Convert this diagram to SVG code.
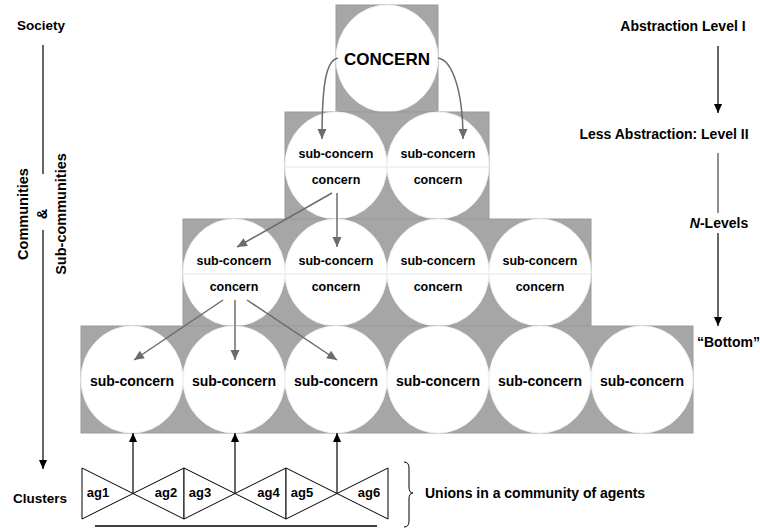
<svg xmlns="http://www.w3.org/2000/svg" width="760" height="530" viewBox="0 0 760 530">
<defs>
<style>
text{font-family:"Liberation Sans",Arial,sans-serif;font-weight:bold;fill:#000}
.lvl{fill:#a6a6a6;stroke:#9a9a9a;stroke-width:1}
.c{fill:#fff;stroke:#f2f2f2;stroke-width:1}
.div{stroke:#e6e6e6;stroke-width:1}
.s{font-size:12.5px;text-anchor:middle}
.b{font-size:14px;text-anchor:middle}
.side{font-size:13.5px}
.vt{font-size:14.5px;text-anchor:middle}
.ag{font-size:13px;text-anchor:middle}
.ga{fill:none;stroke:#6b6b6b;stroke-width:1.5;marker-end:url(#mg)}
.ka{fill:none;stroke:#000;stroke-width:1.2;marker-end:url(#mk)}
.ra{fill:none;stroke:#444;stroke-width:1.2}
.tri{fill:#fff;stroke:#000;stroke-width:1}
</style>
<marker id="mg" viewBox="0 0 10 10" refX="10" refY="5" markerWidth="11" markerHeight="10" orient="auto" markerUnits="userSpaceOnUse"><path d="M0,0.5 L10,5 L0,9.5 Z" fill="#6b6b6b"/></marker>
<marker id="mk" viewBox="0 0 10 10" refX="10" refY="5" markerWidth="10" markerHeight="9" orient="auto" markerUnits="userSpaceOnUse"><path d="M0,0.5 L10,5 L0,9.5 Z" fill="#000"/></marker>
</defs>
<rect width="760" height="530" fill="#fff"/>

<g id="level1">
<rect class="lvl" x="336" y="5" width="102" height="107"/>
<g id="concern-top"><ellipse class="c" cx="387" cy="58.5" rx="51" ry="53.5"/><text x="387" y="65" style="font-size:17px;text-anchor:middle">CONCERN</text></g>
</g>

<g id="level2">
<rect class="lvl" x="285" y="112" width="204" height="107"/>
<g id="l2c1"><ellipse class="c" cx="336" cy="165.5" rx="51" ry="53.5"/><line class="div" x1="285" y1="167" x2="387" y2="167"/><text class="s" x="336" y="158">sub-concern</text><text class="s" x="336" y="184">concern</text></g>
<g id="l2c2"><ellipse class="c" cx="438" cy="165.5" rx="51" ry="53.5"/><line class="div" x1="387" y1="167" x2="489" y2="167"/><text class="s" x="438" y="158">sub-concern</text><text class="s" x="438" y="184">concern</text></g>
</g>

<g id="level3">
<rect class="lvl" x="183" y="219" width="408" height="107"/>
<g id="l3c1"><ellipse class="c" cx="234" cy="272.5" rx="51" ry="53.5"/><line class="div" x1="183" y1="274" x2="285" y2="274"/><text class="s" x="234" y="265">sub-concern</text><text class="s" x="234" y="291">concern</text></g>
<g id="l3c2"><ellipse class="c" cx="336" cy="272.5" rx="51" ry="53.5"/><line class="div" x1="285" y1="274" x2="387" y2="274"/><text class="s" x="336" y="265">sub-concern</text><text class="s" x="336" y="291">concern</text></g>
<g id="l3c3"><ellipse class="c" cx="438" cy="272.5" rx="51" ry="53.5"/><line class="div" x1="387" y1="274" x2="489" y2="274"/><text class="s" x="438" y="265">sub-concern</text><text class="s" x="438" y="291">concern</text></g>
<g id="l3c4"><ellipse class="c" cx="540" cy="272.5" rx="51" ry="53.5"/><line class="div" x1="489" y1="274" x2="591" y2="274"/><text class="s" x="540" y="265">sub-concern</text><text class="s" x="540" y="291">concern</text></g>
</g>

<g id="level4">
<rect class="lvl" x="81" y="326" width="612" height="107"/>
<g id="l4c1"><ellipse class="c" cx="132" cy="379.5" rx="51" ry="53.5"/><text class="b" x="132" y="386">sub-concern</text></g>
<g id="l4c2"><ellipse class="c" cx="234" cy="379.5" rx="51" ry="53.5"/><text class="b" x="234" y="386">sub-concern</text></g>
<g id="l4c3"><ellipse class="c" cx="336" cy="379.5" rx="51" ry="53.5"/><text class="b" x="336" y="386">sub-concern</text></g>
<g id="l4c4"><ellipse class="c" cx="438" cy="379.5" rx="51" ry="53.5"/><text class="b" x="438" y="386">sub-concern</text></g>
<g id="l4c5"><ellipse class="c" cx="540" cy="379.5" rx="51" ry="53.5"/><text class="b" x="540" y="386">sub-concern</text></g>
<g id="l4c6"><ellipse class="c" cx="642" cy="379.5" rx="51" ry="53.5"/><text class="b" x="642" y="386">sub-concern</text></g>
</g>

<g id="clusters">
<g id="bowtie1"><polygon class="tri" points="82,468 82,519 133,493.5"/><polygon class="tri" points="133,493.5 184,468 184,519"/><text class="ag" x="98" y="497">ag1</text><text class="ag" x="166" y="497">ag2</text></g>
<g id="bowtie2"><polygon class="tri" points="184,468 184,519 235,493.5"/><polygon class="tri" points="235,493.5 286,468 286,519"/><text class="ag" x="200" y="497">ag3</text><text class="ag" x="268.5" y="497">ag4</text></g>
<g id="bowtie3"><polygon class="tri" points="286,468 286,519 337,493.5"/><polygon class="tri" points="337,493.5 388,468 388,519"/><text class="ag" x="302" y="497">ag5</text><text class="ag" x="369" y="497">ag6</text></g>
<line x1="95" y1="526" x2="377" y2="526" stroke="#000" stroke-width="1.5"/>
<path d="M404,462 Q409,462 409,468 L409,487 Q409,493 413,493 Q409,493 409,499 L409,521 Q409,527 404,527" fill="none" stroke="#000" stroke-width="1"/>
<text x="425" y="498" style="font-size:14px">Unions in a community of agents</text>
</g>

<g id="connectors">
<path class="ga" d="M338,58 C325,60 322,90 322,139"/>
<path class="ga" d="M438,58 C452,60 463,90 463,139"/>
<path class="ga" d="M332,193 L237,247"/>
<path class="ga" d="M337,193 L337,247"/>
<path class="ga" d="M223,300 L134,360"/>
<path class="ga" d="M235,300 L235,360"/>
<path class="ga" d="M247,300 L337,360"/>
<path class="ka" d="M133,493 L133,433"/>
<path class="ka" d="M235,493 L235,433"/>
<path class="ka" d="M337,493 L337,433"/>
<path class="ka" d="M43,45 L43,174 M43,230 L43,469"/>
<path class="ka" d="M718,46 L718,113"/>
<path class="ra" d="M718,153 L718,213"/>
<path class="ka" d="M718,233 L718,326"/>
</g>

<g id="left-labels">
<text class="side" x="41" y="30" text-anchor="middle">Society</text>
<text class="side" x="40" y="503" text-anchor="middle">Clusters</text>
<text class="vt" transform="translate(28,214) rotate(-90)">Communities</text>
<text class="vt" transform="translate(47,214) rotate(-90)">&amp;</text>
<text class="vt" transform="translate(66,214) rotate(-90)">Sub-communities</text>
</g>

<g id="right-labels">
<text x="683" y="31" style="font-size:14px;text-anchor:middle">Abstraction Level I</text>
<text x="664" y="139" style="font-size:14px;text-anchor:middle">Less Abstraction: Level II</text>
<text x="719" y="228" style="font-size:14px;text-anchor:middle"><tspan font-style="italic">N</tspan>-Levels</text>
<text x="697" y="347" style="font-size:14px">“Bottom”</text>
</g>
</svg>
